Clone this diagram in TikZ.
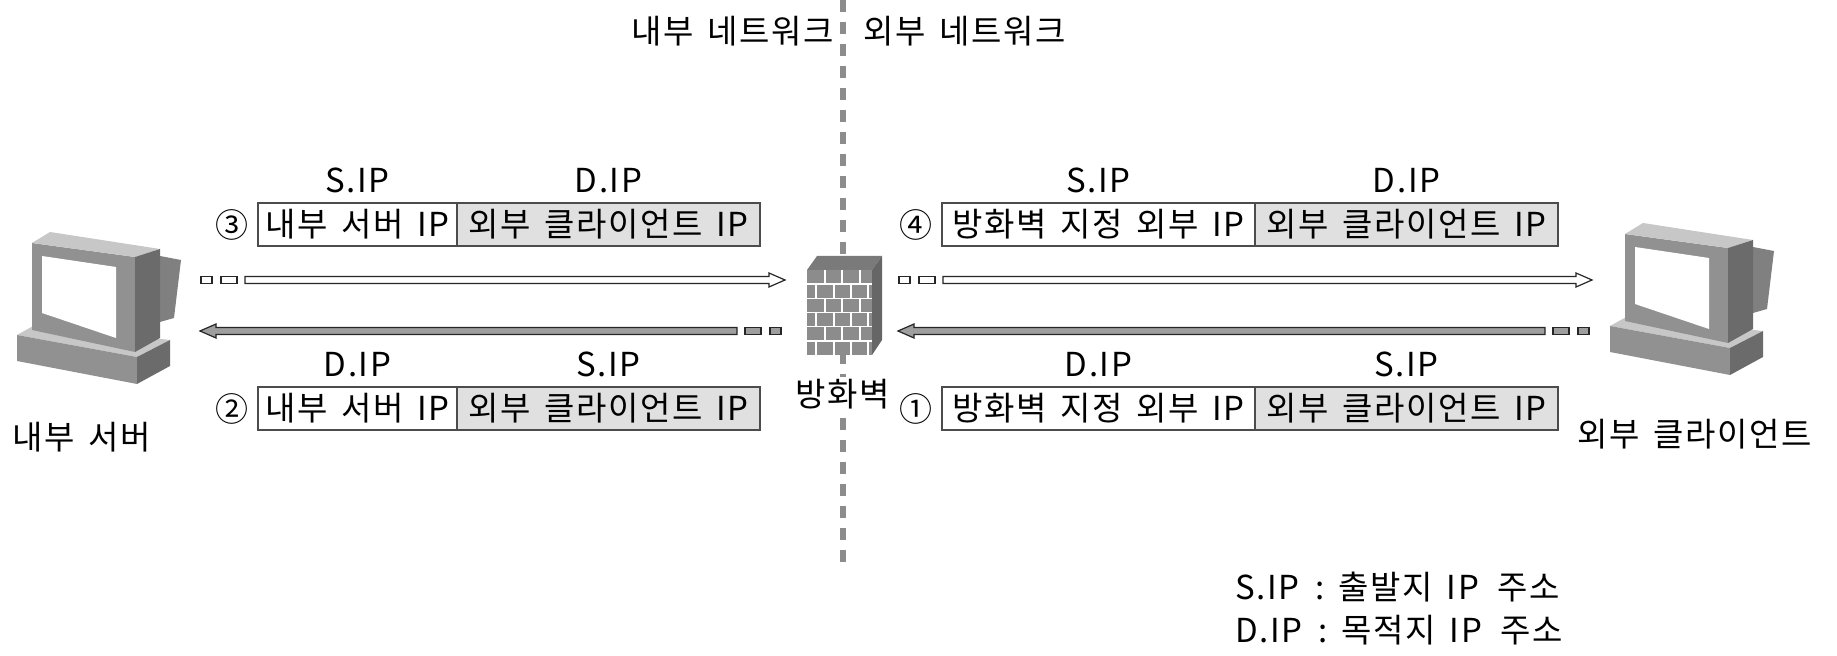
\documentclass[tikz,border=0pt]{standalone}
\usepackage{fontspec}
\setmainfont[LetterSpace=5,WordSpace=1.5]{Noto Sans CJK KR}
\usetikzlibrary{positioning,calc}

\definecolor{cellgray}{gray}{0.88}
\definecolor{boxline}{gray}{0.3}
\definecolor{divgray}{gray}{0.55}
\definecolor{flowgray}{gray}{0.62}

\tikzset{
  cellL/.style={draw=boxline,line width=1pt,fill=white,minimum height=21.5pt,inner sep=1pt,outer sep=0pt},
  cellR/.style={cellL,fill=cellgray,minimum width=151.5pt},
  tag/.style={inner sep=0pt},
  pktarrow/.style={draw=black!85,line width=0.6pt},
  divider/.style={divgray,line width=2.6pt,dash pattern=on 6pt off 5pt},
  mortar/.style={white,line width=0.8pt},
  pctop/.style={fill=black!22},pcfront/.style={fill=black!43},
  pcside/.style={fill=black!58},pcback/.style={fill=black!50}
}

% hollow packet arrow: tail, tip, direction (1 right, -1 left), fill
\newcommand\flowarrow[4]{%
  \draw[pktarrow,fill=#4] ($(#1)+(0,-3.5)$) -- ($(#2)+({-16*(#3)},-3.5)$) -- ($(#2)+({-16*(#3)},-7)$)
    -- (#2) -- ($(#2)+({-16*(#3)},7)$) -- ($(#2)+({-16*(#3)},3.5)$) -- ($(#1)+(0,3.5)$) -- cycle;
  \draw[pktarrow,fill=#4] ($(#1)+({-8*(#3)},-3.5)$) rectangle ($(#1)+({-24*(#3)},3.5)$);
  \draw[pktarrow,fill=#4] ($(#1)+({-33*(#3)},-3.5)$) rectangle ($(#1)+({-44*(#3)},3.5)$);}

% computer, shifted
\newcommand\terminal[1]{%
  \begin{scope}[shift={(#1)}]
    \fill[pcback] (160,256) -- (181,260) -- (174,318) -- (160,322) -- cycle;
    \fill[pctop] (17,335) -- (35,325) -- (170,340) -- (137,357) -- cycle;
    \fill[pcfront] (17,335) -- (137,357) -- (137,384) -- (17,361) -- cycle;
    \fill[pcside] (137,357) -- (170,340) -- (170,366) -- (137,384) -- cycle;
    \fill[pcfront] (32,243) -- (135,257) -- (135,352) -- (32,330) -- cycle;
    \fill[pctop] (32,243) -- (50,232) -- (160,249) -- (135,257) -- cycle;
    \fill[pcside] (135,257) -- (160,249) -- (160,338) -- (135,352) -- cycle;
    \fill[white] (42,256) -- (116,267) -- (116,338) -- (42,313) -- cycle;
  \end{scope}}

\begin{document}
\begin{tikzpicture}[x=0.5pt,y=-0.5pt,font=\fontsize{16.5pt}{19pt}\selectfont]
  \useasboundingbox (0,0) rectangle (1837,656);
  % inside / outside divider
  \coordinate (divtop) at (843,0); \coordinate (divbot) at (843,562);
  \draw[divider] (divtop) -- (divbot);
  \node[tag,anchor=east] (innet) at (834,31) {내부 네트워크};
  \node[tag,anchor=west] (outnet) at (863,31) {외부 네트워크};

  % firewall
  \fill[black!52] (807,270) -- (817,256) -- (882,256) -- (872,270) -- cycle;
  \fill[black!60] (872,270) -- (882,256) -- (882,340) -- (872,355) -- cycle;
  \fill[black!45] (807,270) rectangle (872,355);
  \foreach \r in {1,...,5} \draw[mortar] (807,{270+\r*14.17}) -- (872,{270+\r*14.17});
  \foreach \r in {0,2,4} \foreach \x in {825,842,860}
    \draw[mortar] (\x,{270+\r*14.17}) -- ++(0,14.17);
  \foreach \r in {1,3,5} \foreach \x in {816,834,851,868}
    \draw[mortar] (\x,{270+\r*14.17}) -- ++(0,14.17);
  \node[tag,fill=white,inner sep=1pt] (fwlabel) at (843,394) {방화벽};

  % hosts
  \terminal{0,0} \terminal{1593,-9}
  \node (srvlabel) at (82,437) {내부 서버};
  \node (clilabel) at (1695,434) {외부 클라이언트};

  % packets, inside
  \node[cellL,minimum width=99.5pt,anchor=west] (b3L) at (258,224.5) {내부 서버 IP};
  \node[cellR,right=0pt of b3L] (b3R) {외부 클라이언트 IP};
  \node[tag,above=5pt of b3L] (b3s) {S.IP}; \node[tag,above=5pt of b3R] (b3d) {D.IP};
  \node[tag] (n3) at (232,225) {③};
  \node[cellL,minimum width=99.5pt,anchor=west] (b2L) at (258,408.5) {내부 서버 IP};
  \node[cellR,right=0pt of b2L] (b2R) {외부 클라이언트 IP};
  \node[tag,above=5pt of b2L] (b2d) {D.IP}; \node[tag,above=5pt of b2R] (b2s) {S.IP};
  \node[tag] (n2) at (232,409) {②};

  % packets, outside
  \node[cellL,minimum width=156.5pt,anchor=west] (b4L) at (942,224.5) {방화벽 지정 외부 IP};
  \node[cellR,right=0pt of b4L] (b4R) {외부 클라이언트 IP};
  \node[tag,above=5pt of b4L] (b4s) {S.IP}; \node[tag,above=5pt of b4R] (b4d) {D.IP};
  \node[tag] (n4) at (916,225) {④};
  \node[cellL,minimum width=156.5pt,anchor=west] (b1L) at (942,408.5) {방화벽 지정 외부 IP};
  \node[cellR,right=0pt of b1L] (b1R) {외부 클라이언트 IP};
  \node[tag,above=5pt of b1L] (b1d) {D.IP}; \node[tag,above=5pt of b1R] (b1s) {S.IP};
  \node[tag] (n1) at (916,409) {①};

  % flows
  \coordinate (s3tail) at (245,280); \coordinate (s3tip) at (785,280);
  \coordinate (s2tail) at (737,331); \coordinate (s2tip) at (200,331);
  \coordinate (s4tail) at (943,280); \coordinate (s4tip) at (1592,280);
  \coordinate (s1tail) at (1545,331); \coordinate (s1tip) at (898,331);
  \flowarrow{s3tail}{s3tip}{1}{white}
  \flowarrow{s2tail}{s2tip}{-1}{flowgray}
  \flowarrow{s4tail}{s4tip}{1}{white}
  \flowarrow{s1tail}{s1tip}{-1}{flowgray}

  % legend
  \node[tag,anchor=west] (legs) at (1235,587) {S.IP\hspace{8pt}:\hspace{7pt}출발지 IP\hspace{9pt}주소};
  \node[tag,anchor=west] (legd) at (1235,630) {D.IP\hspace{8pt}:\hspace{7pt}목적지 IP\hspace{9pt}주소};
\end{tikzpicture}
\end{document}
